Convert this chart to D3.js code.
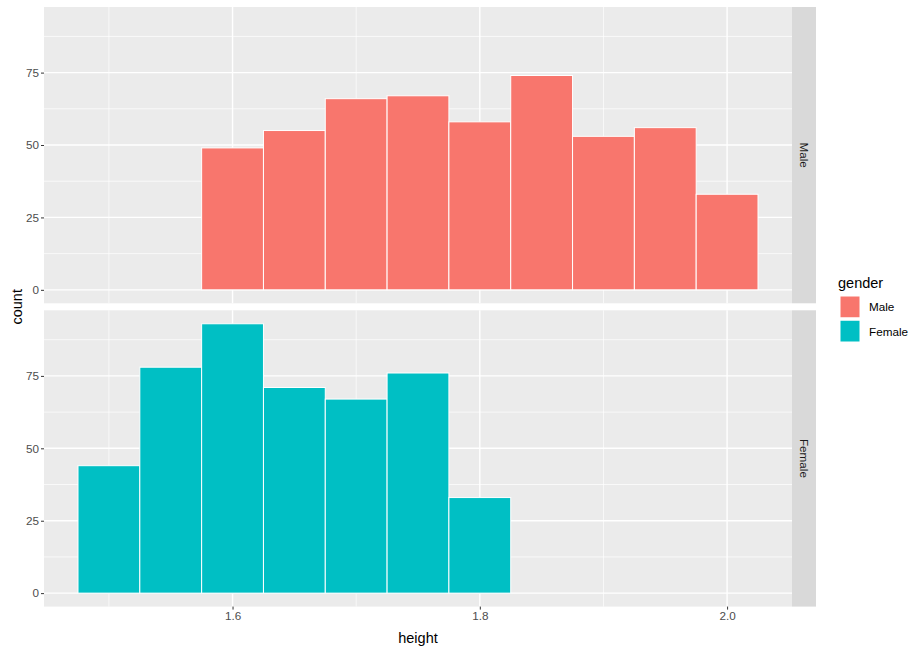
<!DOCTYPE html>
<html>
<head>
<meta charset="utf-8">
<script src="https://cdn.jsdelivr.net/npm/d3@7"></script>
<style>
  body { margin: 0; background: #fff; }
  svg { display: block; font-family: "Liberation Sans", Arial, sans-serif; }
</style>
</head>
<body>
<svg id="chart" width="922" height="652"></svg>
<script>
// ---- data ----
const genders = ["Male", "Female"];
const genderColors = ["#F8766D", "#00BFC4"];
const binWidth = 0.05;
const maleBinCenters = [1.60, 1.65, 1.70, 1.75, 1.80, 1.85, 1.90, 1.95, 2.00];
const maleCounts = [49, 55, 66, 67, 58, 74, 53, 56, 33];
const femaleBinCenters = [1.50, 1.55, 1.60, 1.65, 1.70, 1.75, 1.80];
const femaleCounts = [44, 78, 93, 71, 67, 76, 33];
const xTicks = [1.6, 1.8, 2.0];
const xMinor = [1.5, 1.7, 1.9];
const yTicks = [0, 25, 50, 75];
const yMinor = [12.5, 37.5, 62.5, 87.5];

const panelsData = [
  { name: "Male", color: genderColors[0], bins: maleBinCenters.map((c, i) => ({ c, n: maleCounts[i] })) },
  { name: "Female", color: genderColors[1], bins: femaleBinCenters.map((c, i) => ({ c, n: femaleCounts[i] })) }
];

// ---- layout ----
const svg = d3.select("#chart");
const left = 44, right = 792, stripW = 24;
const panelTops = [7, 310.3];
const panelH = 296.3;

const allEdges = [...maleBinCenters, ...femaleBinCenters];
const xmin = d3.min(allEdges) - binWidth / 2, xmax = d3.max(allEdges) + binWidth / 2;
const xpad = (xmax - xmin) * 0.05;
const x = d3.scaleLinear().domain([xmin - xpad, xmax + xpad]).range([left, right]);
const ymax = d3.max([...maleCounts, ...femaleCounts]);
const ypad = ymax * 0.05;

panelsData.forEach((p, pi) => {
  const top = panelTops[pi];
  const y = d3.scaleLinear().domain([-ypad, ymax + ypad]).range([top + panelH, top]);
  const g = svg.append("g");
  g.append("rect").attr("x", left).attr("y", top).attr("width", right - left).attr("height", panelH).attr("fill", "#EBEBEB");
  // minor grid
  g.selectAll(".ym").data(yMinor).join("line")
    .attr("x1", left).attr("x2", right).attr("y1", d => y(d)).attr("y2", d => y(d))
    .attr("stroke", "#fff").attr("stroke-width", 0.7);
  g.selectAll(".xm").data(xMinor).join("line")
    .attr("y1", top).attr("y2", top + panelH).attr("x1", d => x(d)).attr("x2", d => x(d))
    .attr("stroke", "#fff").attr("stroke-width", 0.7);
  // major grid
  g.selectAll(".yM").data(yTicks).join("line")
    .attr("x1", left).attr("x2", right).attr("y1", d => y(d)).attr("y2", d => y(d))
    .attr("stroke", "#fff").attr("stroke-width", 1.4);
  g.selectAll(".xM").data(xTicks).join("line")
    .attr("y1", top).attr("y2", top + panelH).attr("x1", d => x(d)).attr("x2", d => x(d))
    .attr("stroke", "#fff").attr("stroke-width", 1.4);
  // bars
  g.selectAll(".bar").data(p.bins).join("rect")
    .attr("x", d => x(d.c - binWidth / 2))
    .attr("width", d => x(d.c + binWidth / 2) - x(d.c - binWidth / 2))
    .attr("y", d => y(d.n))
    .attr("height", d => y(0) - y(d.n))
    .attr("fill", p.color).attr("stroke", "#fff").attr("stroke-width", 1);
  // y axis
  const ya = d3.axisLeft(y).tickValues(yTicks).tickSize(3).tickPadding(2).tickFormat(d3.format("d"));
  const yg = g.append("g").attr("transform", `translate(${left},0)`).call(ya);
  yg.select(".domain").remove();
  yg.selectAll(".tick line").attr("stroke", "#333333").attr("stroke-width", 1);
  yg.selectAll(".tick text").attr("fill", "#4D4D4D").style("font-size", "11.7px").style("font-family", "Liberation Sans, Arial, sans-serif");
  // strip
  g.append("rect").attr("x", right).attr("y", top).attr("width", stripW).attr("height", panelH).attr("fill", "#D9D9D9");
  g.append("text").attr("transform", `translate(${right + stripW / 2},${top + panelH / 2}) rotate(90)`)
    .attr("text-anchor", "middle").attr("dominant-baseline", "central")
    .attr("fill", "#1A1A1A").style("font-size", "11.7px").text(p.name);
  if (pi === 1) {
    const xa = d3.axisBottom(x).tickValues(xTicks).tickSize(3).tickPadding(2).tickFormat(d3.format(".1f"));
    const xg = g.append("g").attr("transform", `translate(0,${top + panelH})`).call(xa);
    xg.select(".domain").remove();
    xg.selectAll(".tick line").attr("stroke", "#333333").attr("stroke-width", 1);
    xg.selectAll(".tick text").attr("fill", "#4D4D4D").style("font-size", "11.7px").style("font-family", "Liberation Sans, Arial, sans-serif");
  }
});

// axis titles
svg.append("text").attr("x", (left + right) / 2).attr("y", 643).attr("text-anchor", "middle")
  .style("font-size", "14.5px").attr("fill", "#000").text("height");
svg.append("text").attr("transform", `translate(22,${(panelTops[0] + panelTops[1] + panelH) / 2}) rotate(-90)`)
  .attr("text-anchor", "middle").style("font-size", "14.5px").attr("fill", "#000").text("count");

// legend
const lg = svg.append("g");
lg.append("text").attr("x", 838).attr("y", 288).style("font-size", "14.5px").attr("fill", "#000").text("gender");
const keyY = d3.scaleBand().domain(genders).range([296, 342]).paddingInner(0.1);
lg.selectAll(".key").data(genders).join("rect")
  .attr("x", 840).attr("y", d => keyY(d)).attr("width", 20).attr("height", keyY.bandwidth())
  .attr("fill", (d, i) => genderColors[i]).attr("stroke", "#fff").attr("stroke-width", 1);
lg.selectAll(".klab").data(genders).join("text")
  .attr("x", 869).attr("y", d => keyY(d) + keyY.bandwidth() / 2).attr("dominant-baseline", "central")
  .style("font-size", "11.7px").attr("fill", "#000").text(d => d);
</script>
</body>
</html>
